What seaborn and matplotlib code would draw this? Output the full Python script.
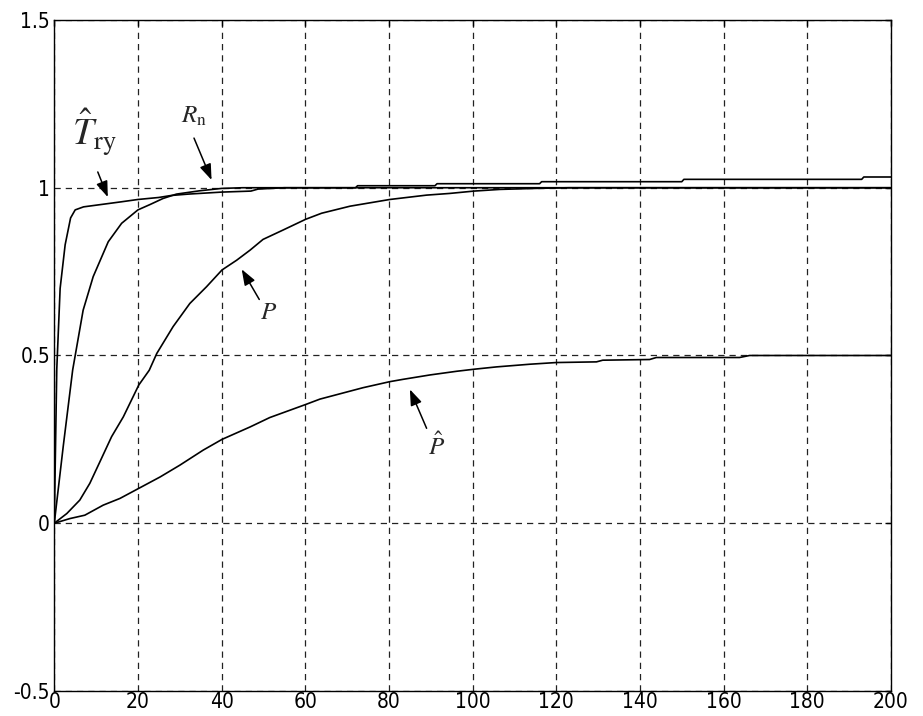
import numpy as np
import pandas as pd
import matplotlib
matplotlib.use("Agg")
import matplotlib.pyplot as plt
import seaborn as sns
from matplotlib import font_manager as fm

# ---- data ----
x_T = [0, 0.6, 1.4, 2.6, 3.9, 5, 7, 10, 13, 16, 20, 25, 28, 32, 36, 40, 47, 48.7, 55, 200]
y_T = [0, 0.46, 0.70, 0.83, 0.91, 0.934, 0.943, 0.948, 0.953, 0.958, 0.965, 0.971,
       0.977, 0.981, 0.984, 0.987, 0.99, 0.996, 1.0, 1.0]

x_R = [0, 2.15, 4.4, 6.9, 9.3, 12.9, 16.1, 20, 22.9, 26, 29.2, 34.8, 40, 45, 72, 72.5,
       91, 91.5, 116, 116.5, 150, 150.5, 193, 193.5, 200]
y_R = [0, 0.23, 0.457, 0.635, 0.735, 0.839, 0.894, 0.934, 0.95, 0.968, 0.981, 0.991,
       0.998, 1.0, 1.0, 1.006, 1.006, 1.012, 1.012, 1.018, 1.018, 1.025, 1.025, 1.032, 1.032]

x_P = [0, 3, 6.1, 8.5, 10.9, 13.7, 16.5, 20.2, 22.7, 24.5, 28.4, 32.4, 36.4, 40.1, 43.6,
       46.8, 49.9, 54.7, 60.1, 63.9, 70.7, 80.2, 89, 94.5, 100.3, 106.5, 115, 123, 200]
y_P = [0, 0.029, 0.069, 0.119, 0.183, 0.258, 0.317, 0.412, 0.456, 0.506, 0.586, 0.655,
       0.705, 0.755, 0.784, 0.814, 0.846, 0.874, 0.906, 0.924, 0.945, 0.965, 0.978, 0.983,
       0.99, 0.995, 0.998, 1.0, 1.0]

x_Ph = [0, 3.75, 7.3, 11.7, 15.7, 20.2, 25.3, 30, 35.6, 40.1, 46.8, 51.5, 60.1, 63.5, 73.8,
        80.2, 83.4, 89.8, 96.2, 100.3, 105.7, 113.7, 120, 129.6, 131.1, 142.3, 143.9,
        163.8, 166.2, 200]
y_Ph = [0, 0.014, 0.024, 0.054, 0.074, 0.104, 0.138, 0.173, 0.218, 0.25, 0.287, 0.315,
        0.354, 0.37, 0.404, 0.422, 0.429, 0.442, 0.453, 0.459, 0.466, 0.474, 0.479, 0.481,
        0.486, 0.488, 0.494, 0.494, 0.5, 0.5]

series_names = ["Try", "Rn", "P", "Phat"]
x_ticks = [0, 20, 40, 60, 80, 100, 120, 140, 160, 180, 200]
y_ticks = [-0.5, 0, 0.5, 1, 1.5]
y_tick_labels = ["-0.5", "0", "0.5", "1", "1.5"]

# ---- styling ----
sns.set_style("white")
avail = {f.name for f in fm.fontManager.ttflist}
narrow = [f for f in ["Liberation Sans Narrow", "DejaVu Sans Condensed"] if f in avail]
plt.rcParams["font.family"] = narrow + ["DejaVu Sans"]
plt.rcParams["font.stretch"] = "condensed"
plt.rcParams["mathtext.fontset"] = "stix"

frames = []
for name, xs, ys in zip(series_names, [x_T, x_R, x_P, x_Ph], [y_T, y_R, y_P, y_Ph]):
    frames.append(pd.DataFrame({"x": xs, "y": ys, "series": name}))
df = pd.concat(frames, ignore_index=True)

fig = plt.figure(figsize=(9.23, 7.16), dpi=100)
ax = fig.add_axes([0.0588, 0.0349, 0.9065, 0.9372])

sns.lineplot(data=df, x="x", y="y", hue="series", units="series", estimator=None,
             palette={n: "black" for n in series_names}, legend=False, ax=ax,
             linewidth=1.2, sort=False)

ax.set_xlim(0, 200)
ax.set_ylim(-0.5, 1.5)
ax.set_xticks(x_ticks)
ax.set_xticklabels([str(t) for t in x_ticks])
ax.set_yticks(y_ticks)
ax.set_yticklabels(y_tick_labels)
ax.set_xlabel("")
ax.set_ylabel("")
ax.tick_params(axis="both", direction="in", length=4, width=1, labelsize=15,
               colors="black", top=True, right=True)
ax.tick_params(axis="x", pad=1)
ax.tick_params(axis="y", pad=3)
for s in ax.spines.values():
    s.set_color("black")
    s.set_linewidth(1.0)
    s.set_visible(True)

ax.grid(True, color="#222222", linestyle=(0, (5, 4)), linewidth=0.9)
ax.set_axisbelow(True)

ap = dict(arrowstyle="-|>,head_length=0.6,head_width=0.22", color="black", lw=1.1,
          mutation_scale=16, shrinkA=0, shrinkB=0)
ax.annotate("", xy=(12.8, 0.972), xytext=(10.4, 1.047), arrowprops=ap)
ax.text(9.5, 1.165, r"$\hat{T}_{\mathrm{ry}}$", fontsize=27, ha="center", va="center")
ax.annotate("", xy=(37.6, 1.023), xytext=(33.4, 1.148), arrowprops=ap)
ax.text(33.3, 1.215, r"$R_{\mathrm{n}}$", fontsize=18, ha="center", va="center")
ax.annotate("", xy=(44.8, 0.757), xytext=(49.0, 0.667), arrowprops=ap)
ax.text(51.3, 0.63, r"$P$", fontsize=18, ha="center", va="center")
ax.annotate("", xy=(85.0, 0.399), xytext=(89.0, 0.283), arrowprops=ap)
ax.text(91.4, 0.23, r"$\hat{P}$", fontsize=18, ha="center", va="center")

fig.savefig("out.png", dpi=100)
